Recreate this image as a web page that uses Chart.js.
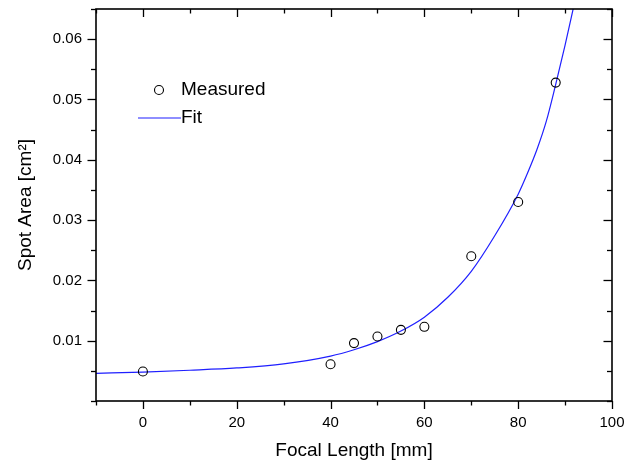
<!DOCTYPE html>
<html>
<head>
<meta charset="utf-8">
<title>Spot Area vs Focal Length</title>
<script src="https://cdn.jsdelivr.net/npm/chart.js@4.4.1/dist/chart.umd.min.js"></script>
<style>
  html, body { margin: 0; padding: 0; background: #fff; }
  #wrap { width: 625px; height: 464px; }
</style>
</head>
<body>
<div id="wrap"><canvas id="spotChart" width="625" height="464"></canvas></div>
<script>
// measured spot areas (cm^2) at each focal length (mm)
const focalLengths = [0, 40, 45, 50, 55, 60, 70, 80, 88];
const spotAreas = [0.0049, 0.0061, 0.0096, 0.0107, 0.0118, 0.0123, 0.0240, 0.0330, 0.0528];

// fitted curve, sampled along the focal length axis
const fitX = [-10, 0, 10, 20, 30, 40, 45, 50, 55, 60, 65, 70, 75, 80, 82, 84, 86, 88, 90, 92];
const fitY = [0.00458, 0.00480, 0.00510, 0.00548, 0.00615, 0.00745, 0.00850, 0.00985, 0.01160,
              0.01390, 0.01720, 0.02150, 0.02740, 0.03430, 0.03780, 0.04170, 0.04640, 0.05250,
              0.05900, 0.06600];

// labelled ticks
const xTickLabels = [0, 20, 40, 60, 80, 100];
const yTickLabels = [0.01, 0.02, 0.03, 0.04, 0.05, 0.06];

const FONT = '"Liberation Sans", Arial, sans-serif';
Chart.defaults.font.family = FONT;
Chart.defaults.color = '#000';

const isLabelled = (list, v) => list.some(t => Math.abs(t - v) < 1e-9);

// fixed axis sizes, no extra label overhang padding
const fixScale = size => s => {
  if (s.isHorizontal()) s.height = size; else s.width = size;
  s.paddingTop = s.paddingBottom = s.paddingLeft = s.paddingRight = 0;
};

// box around the plot with major/minor ticks (out on left/bottom, in on top/right)
const framePlugin = {
  id: 'frame',
  afterDraw(chart) {
    const { ctx, chartArea: a, scales: { x, y } } = chart;
    const line = (x1, y1, x2, y2) => {
      ctx.beginPath(); ctx.moveTo(x1, y1); ctx.lineTo(x2, y2); ctx.stroke();
    };
    ctx.save();
    ctx.strokeStyle = '#000';
    ctx.lineWidth = 1.3;
    x.ticks.forEach(t => {
      const px = Math.round(x.getPixelForValue(t.value)) + 0.5;
      const len = isLabelled(xTickLabels, t.value) ? 8 : 4.5;
      line(px, a.bottom, px, a.bottom + len);
      line(px, a.top, px, a.top + len);
    });
    y.ticks.forEach(t => {
      const py = Math.round(y.getPixelForValue(t.value)) + 0.5;
      const len = isLabelled(yTickLabels, t.value) ? 8.5 : 5;
      line(a.left - len, py, a.left, py);
      line(a.right - len, py, a.right, py);
    });
    ctx.lineWidth = 1.6;
    ctx.strokeRect(a.left, a.top, a.right - a.left, a.bottom - a.top);
    ctx.restore();
  }
};

// legend drawn inside the plot area
const insideLegend = {
  id: 'insideLegend',
  afterDraw(chart, args, opts) {
    const { ctx, chartArea: a } = chart;
    const [meas, fit] = chart.data.datasets;
    const x0 = a.left + opts.offsetX, y0 = a.top + opts.offsetY;
    ctx.save();
    ctx.font = '19px ' + FONT;
    ctx.fillStyle = '#000';
    ctx.textBaseline = 'middle';

    ctx.strokeStyle = meas.borderColor;
    ctx.lineWidth = meas.borderWidth;
    ctx.beginPath();
    ctx.arc(x0 + 21, y0, meas.pointRadius, 0, Math.PI * 2);
    ctx.stroke();
    ctx.fillText(meas.label, x0 + 43, y0);

    ctx.strokeStyle = fit.borderColor;
    ctx.lineWidth = fit.borderWidth;
    ctx.beginPath();
    ctx.moveTo(x0, y0 + 28);
    ctx.lineTo(x0 + 43, y0 + 28);
    ctx.stroke();
    ctx.fillText(fit.label, x0 + 43, y0 + 28);
    ctx.restore();
  }
};

new Chart(document.getElementById('spotChart'), {
  type: 'scatter',
  data: {
    datasets: [
      {
        label: 'Measured',
        data: focalLengths.map((f, i) => ({ x: f, y: spotAreas[i] })),
        pointStyle: 'circle',
        pointRadius: 4.5,
        borderColor: '#000',
        borderWidth: 1.1,
        backgroundColor: 'rgba(0,0,0,0)',
        order: 0
      },
      {
        label: 'Fit',
        data: fitX.map((f, i) => ({ x: f, y: fitY[i] })),
        showLine: true,
        pointRadius: 0,
        borderColor: '#1f1fff',
        borderWidth: 1.2,
        cubicInterpolationMode: 'monotone',
        order: 1
      }
    ]
  },
  options: {
    responsive: false,
    animation: false,
    events: [],
    layout: { padding: { top: 9, right: 13, left: 0, bottom: 0 } },
    plugins: {
      legend: { display: false },
      tooltip: { enabled: false },
      insideLegend: { offsetX: 42, offsetY: 81 }
    },
    scales: {
      x: {
        type: 'linear',
        min: -10,
        max: 100,
        grid: { display: false, drawTicks: false },
        border: { display: false },
        ticks: {
          stepSize: 10,
          autoSkip: false,
          maxRotation: 0,
          padding: 13,
          font: { size: 15 },
          callback: v => isLabelled(xTickLabels, v) ? String(v) : ''
        },
        title: {
          display: true,
          text: 'Focal Length [mm]',
          font: { size: 19 },
          padding: { top: 0, bottom: 2 }
        },
        afterFit: fixScale(63)
      },
      y: {
        type: 'linear',
        min: 0,
        max: 0.065,
        grid: { display: false, drawTicks: false },
        border: { display: false },
        ticks: {
          stepSize: 0.005,
          autoSkip: false,
          padding: 14,
          font: { size: 15 },
          callback: v => isLabelled(yTickLabels, v) ? v.toFixed(2) : ''
        },
        title: {
          display: true,
          text: 'Spot Area [cm²]',
          font: { size: 19 },
          padding: { top: 14, bottom: 0 }
        },
        afterFit: fixScale(96)
      }
    }
  },
  plugins: [framePlugin, insideLegend]
});
</script>
</body>
</html>
